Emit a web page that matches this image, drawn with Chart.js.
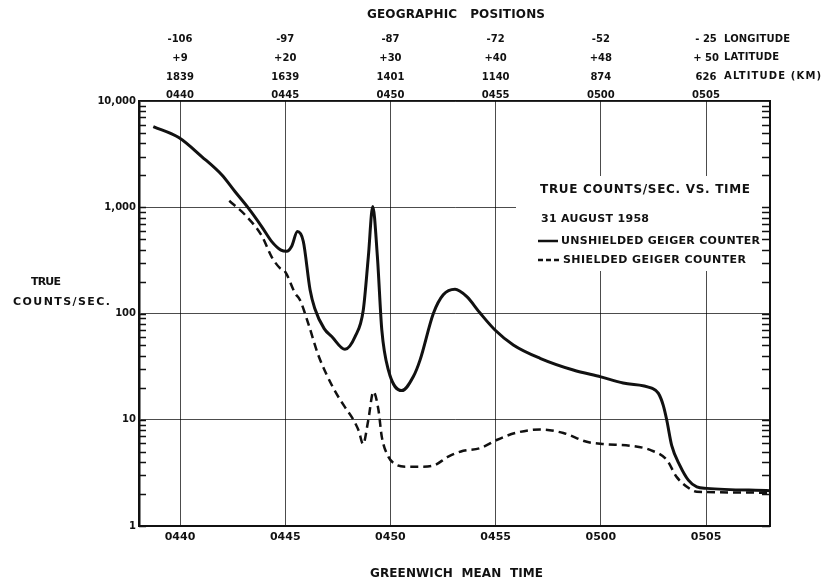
<!DOCTYPE html>
<html>
<head>
<meta charset="utf-8">
<script src="https://cdn.jsdelivr.net/npm/chart.js@4/dist/chart.umd.min.js"></script>
<style>
html, body { margin: 0; padding: 0; background: #fff; }
canvas { display: block; }
</style>
</head>
<body>
<canvas id="geiger" width="825" height="582"></canvas>
<script>
// time in minutes after 04:00 GMT
const timeTicks = [40, 45, 50, 55, 60, 65];
const timeLabels = ['0440', '0445', '0450', '0455', '0500', '0505'];
const longitudes = ['-106', '-97', '-87', '-72', '-52', '- 25'];
const latitudes = ['+9', '+20', '+30', '+40', '+48', '+ 50'];
const altitudes = ['1839', '1639', '1401', '1140', '874', '626'];
const countTicks = [1, 10, 100, 1000, 10000];
const countLabels = ['1', '10', '100', '1,000', '10,000'];

const unshieldedTime = [38.73, 39.94, 41.03, 41.98, 42.61, 43.25, 43.88, 44.36, 44.8, 45.07, 45.3, 45.58, 45.86, 46.18,
  46.4, 46.85, 47.21, 47.84, 48.32, 48.71, 48.95, 49.16, 49.38, 49.59, 49.9, 50.54, 51.09, 51.41, 52.04, 52.51, 53.07,
  53.63, 54.26, 54.97, 55.84, 57.11, 58.69, 60.0, 61.06, 62.42, 62.73, 62.97, 63.13, 63.37, 63.76, 64.16, 64.56,
  65.03, 68.04];
const unshieldedCounts = [5750, 4530, 3000, 2020, 1406, 980, 658, 475, 395, 385, 427, 590, 476, 167,
  112, 72, 60.7, 46, 60.6, 108, 343, 1015, 343, 70, 29.4, 18.8, 25.5, 36.6, 100, 150, 169,
  144, 101, 70, 50.6, 37.9, 29.4, 25.3, 22.2, 19.8, 17.8, 13.6, 10, 5.7, 3.7, 2.7, 2.33,
  2.26, 2.15];

const shieldedTime = [42.34, 43.09, 43.88, 44.36, 44.75, 44.99, 45.47, 45.7, 46.1, 46.57, 47.29, 47.8, 48.24, 48.5,
  48.7, 48.95, 49.19, 49.43, 49.59, 49.9, 50.2, 50.7, 51.5, 52.04, 52.75, 53.46, 54.26, 55.05, 56.0, 57.11, 58.22,
  59.33, 60.12, 61.39, 62.34, 63.13, 63.6, 64.24, 64.56, 68.04];
const shieldedCounts = [1150, 848, 540, 340, 267, 249, 155, 134, 80, 40.7, 19.8, 13.5, 10, 7.8,
  5.9, 10, 18.4, 12.4, 6.9, 4.5, 3.85, 3.62, 3.62, 3.7, 4.5, 5.1, 5.4, 6.45, 7.56, 8.1, 7.5,
  6.2, 5.9, 5.7, 5.2, 4.2, 2.9, 2.23, 2.1, 2.06];

const INK = '#111';
const FONT = '"DejaVu Sans", sans-serif';

function spread(ctx, text, x, y, width) {
  ctx.letterSpacing = '0px';
  const w = ctx.measureText(text).width;
  const gap = text.length > 1 ? (width - w) / (text.length - 1) : 0;
  ctx.letterSpacing = gap + 'px';
  ctx.fillText(text, x, y);
  ctx.letterSpacing = '0px';
}

const extras = {
  id: 'extras',
  afterDraw(chart) {
    const ctx = chart.ctx;
    const area = chart.chartArea;
    const y = chart.scales.y;
    ctx.save();

    // legend panel blanks the grid behind it
    ctx.fillStyle = '#fff';
    ctx.fillRect(516, 176, 246, 95);

    // right frame
    ctx.strokeStyle = INK;
    ctx.lineWidth = 2;
    ctx.beginPath();
    ctx.moveTo(area.right, area.top);
    ctx.lineTo(area.right, area.bottom);
    ctx.stroke();

    // minor log ticks on both sides, pointing inward
    ctx.lineWidth = 1.3;
    for (let d = 0; d < 4; d++) {
      for (let k = 1; k <= 9; k++) {
        const py = Math.round(y.getPixelForValue(k * Math.pow(10, d))) + 0.5;
        ctx.beginPath();
        ctx.moveTo(area.left, py);
        ctx.lineTo(area.left + 7, py);
        ctx.moveTo(area.right - 8, py);
        ctx.lineTo(area.right, py);
        ctx.stroke();
      }
    }

    ctx.fillStyle = INK;
    ctx.textBaseline = 'middle';
    ctx.textAlign = 'left';

    // axis titles
    ctx.font = 'bold 12px ' + FONT;
    spread(ctx, 'GEOGRAPHIC   POSITIONS', 367, 15, 178);
    spread(ctx, 'GREENWICH  MEAN  TIME', 370, 574, 173);
    ctx.font = 'bold 11px ' + FONT;
    spread(ctx, 'TRUE', 31, 282, 30);
    spread(ctx, 'COUNTS/SEC.', 13, 302, 97);

    // words after the last geographic column
    const top = chart.scales.x2;
    const lx = top.getPixelForValue(65) + 18;
    ctx.font = 'bold 10px ' + FONT;
    spread(ctx, 'LONGITUDE', lx, 39, 66);
    spread(ctx, 'LATITUDE', lx, 57, 55);
    spread(ctx, 'ALTITUDE (KM)', lx, 76, 97);

    // legend
    ctx.font = 'bold 12px ' + FONT;
    spread(ctx, 'TRUE COUNTS/SEC. VS. TIME', 540, 190, 210);
    ctx.font = 'bold 11px ' + FONT;
    spread(ctx, '31 AUGUST 1958', 541, 219, 108);
    spread(ctx, 'UNSHIELDED GEIGER COUNTER', 561, 241, 199);
    spread(ctx, 'SHIELDED GEIGER COUNTER', 563, 260, 183);

    ctx.strokeStyle = INK;
    ctx.lineWidth = 2.5;
    ctx.beginPath();
    ctx.moveTo(538, 241);
    ctx.lineTo(558, 241);
    ctx.stroke();
    ctx.setLineDash([5, 3]);
    ctx.beginPath();
    ctx.moveTo(538, 260);
    ctx.lineTo(561, 260);
    ctx.stroke();
    ctx.restore();
  }
};

const timeTicksFor = s => { s.ticks = timeTicks.map(v => ({ value: v })); };

new Chart(document.getElementById('geiger'), {
  type: 'line',
  data: {
    datasets: [
      {
        label: 'UNSHIELDED GEIGER COUNTER',
        data: unshieldedTime.map((t, i) => ({ x: t, y: unshieldedCounts[i] })),
        borderColor: INK,
        borderWidth: 3,
        pointRadius: 0,
        cubicInterpolationMode: 'monotone',
        fill: false
      },
      {
        label: 'SHIELDED GEIGER COUNTER',
        data: shieldedTime.map((t, i) => ({ x: t, y: shieldedCounts[i] })),
        borderColor: INK,
        borderWidth: 2.5,
        borderDash: [8, 5],
        pointRadius: 0,
        cubicInterpolationMode: 'monotone',
        fill: false
      }
    ]
  },
  options: {
    responsive: false,
    animation: false,
    layout: { padding: { left: 0, right: 55, top: 0, bottom: 0 } },
    plugins: {
      legend: { display: false },
      tooltip: { enabled: false }
    },
    scales: {
      x: {
        type: 'linear',
        position: 'bottom',
        min: 38.05,
        max: 68.04,
        afterBuildTicks: timeTicksFor,
        afterFit: s => { s.height = 56; },
        ticks: {
          callback: v => timeLabels[timeTicks.indexOf(v)],
          color: INK,
          font: { family: FONT, size: 11, weight: 'bold' },
          padding: 5,
          maxRotation: 0
        },
        grid: { color: 'rgba(0,0,0,0.7)', lineWidth: 1, drawTicks: false },
        border: { color: INK, width: 2 }
      },
      x2: {
        type: 'linear',
        position: 'top',
        min: 38.05,
        max: 68.04,
        afterBuildTicks: timeTicksFor,
        afterFit: s => { s.height = 101; },
        ticks: {
          callback: v => {
            const i = timeTicks.indexOf(v);
            return [longitudes[i], latitudes[i], altitudes[i], timeLabels[i]];
          },
          color: INK,
          font: { family: FONT, size: 10, weight: 'bold', lineHeight: 1.87 },
          padding: -4,
          maxRotation: 0
        },
        grid: { display: false, drawTicks: false },
        border: { color: INK, width: 1.5 }
      },
      y: {
        type: 'logarithmic',
        position: 'left',
        min: 1,
        max: 10000,
        afterBuildTicks: s => { s.ticks = countTicks.map(v => ({ value: v })); },
        afterFit: s => { s.width = 139; },
        ticks: {
          callback: v => countLabels[countTicks.indexOf(v)],
          color: INK,
          font: { family: FONT, size: 10, weight: 'bold' },
          padding: 3
        },
        grid: { color: 'rgba(0,0,0,0.7)', lineWidth: 1, drawTicks: false },
        border: { color: INK, width: 2.5 }
      }
    }
  },
  plugins: [extras]
});
</script>
</body>
</html>
